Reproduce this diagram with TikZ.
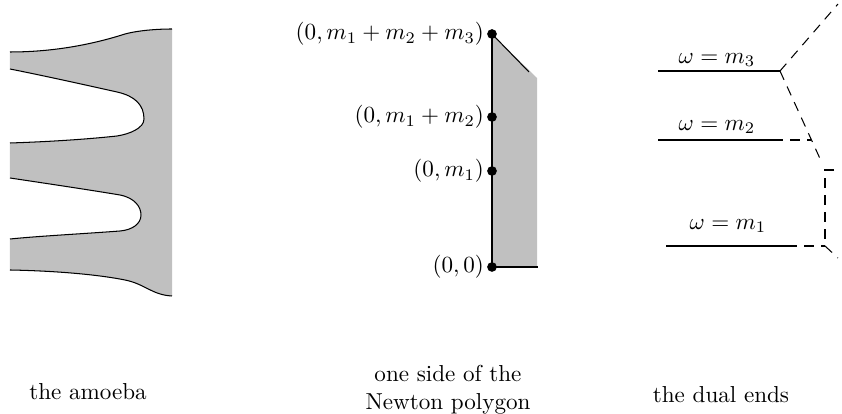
\documentclass[tikz,border=0pt]{standalone}
\begin{document}
\begin{tikzpicture}[x=0.4329pt,y=-0.4329pt,
  amfill/.style={fill={rgb,255:red,192;green,192;blue,192}},
  edge/.style={draw=black,line width=0.45pt},
  dualdash/.style={draw=black,line width=0.45pt,dash pattern=on 4.2pt off 3.2pt},
  gapfirst/.style={dash phase=4.2pt},
  dot/.style={circle,fill=black,inner sep=0pt,minimum size=4.2pt},
  mlabel/.style={anchor=east,inner sep=1pt},
  wlabel/.style={inner sep=0pt},
  caption/.style={align=center,inner sep=0pt}]
\useasboundingbox (0,0) rectangle (842,414);
% ---------- amoeba ----------
\fill[amfill] (10,52) .. controls (60,52) and (100,42) .. (125,34)
  .. controls (140,30) and (160,29) .. (172,29) -- (172,296)
  .. controls (152,295) and (145,284) .. (125,280)
  .. controls (100,275) and (60,271) .. (10,270) -- cycle;
\fill[white] (10,69) .. controls (50,77) and (90,86) .. (117,92)
  .. controls (135,96) and (144,105) .. (144,119)
  .. controls (144,128) and (130,134) .. (117,136)
  .. controls (80,140) and (40,142) .. (10,143) -- (6,143) -- (6,69) -- cycle;
\fill[white] (10,178) .. controls (50,184) and (90,190) .. (120,195)
  .. controls (135,198) and (141,207) .. (141,215)
  .. controls (141,224) and (132,230) .. (120,231)
  .. controls (80,234) and (40,236) .. (10,239) -- (6,239) -- (6,178) -- cycle;
\draw[edge] (10,52) .. controls (60,52) and (100,42) .. (125,34)
  .. controls (140,30) and (160,29) .. (172,29);
\draw[edge] (172,296) .. controls (152,295) and (145,284) .. (125,280)
  .. controls (100,275) and (60,271) .. (10,270);
\draw[edge] (10,69) .. controls (50,77) and (90,86) .. (117,92)
  .. controls (135,96) and (144,105) .. (144,119)
  .. controls (144,128) and (130,134) .. (117,136)
  .. controls (80,140) and (40,142) .. (10,143);
\draw[edge] (10,178) .. controls (50,184) and (90,190) .. (120,195)
  .. controls (135,198) and (141,207) .. (141,215)
  .. controls (141,224) and (132,230) .. (120,231)
  .. controls (80,234) and (40,236) .. (10,239);
% ---------- Newton polygon ----------
\coordinate (p0) at (492,267);
\coordinate (p1) at (492,171);
\coordinate (p2) at (492,117);
\coordinate (p3) at (492,34);
\coordinate (pd) at (529,72);
\coordinate (pg) at (537,78);
\coordinate (pgb) at (537,267);
\coordinate (pb) at (538,267);
\fill[amfill] (p3) -- (pg) -- (pgb) -- (p0) -- cycle;
\draw[edge] (p0) -- (p3);
\draw[edge] (p3) -- (pd);
\draw[edge] (p0) -- (pb);
\node[dot] (d0) at (p0) {};
\node[dot] (d1) at (p1) {};
\node[dot] (d2) at (p2) {};
\node[dot] (d3) at (p3) {};
\node[mlabel] (l0) at (d0.west) {$(0,0)$};
\node[mlabel] (l1) at (d1.west) {$(0,m_1)$};
\node[mlabel] (l2) at (d2.west) {$(0,m_1+m_2)$};
\node[mlabel] (l3) at (d3.west) {$(0,m_1+m_2+m_3)$};
% ---------- dual ends ----------
\coordinate (a3) at (658,71);
\coordinate (v3) at (780,71);
\coordinate (t3) at (838,4);
\coordinate (s3) at (822,163);
\coordinate (a2) at (658,140);
\coordinate (b2) at (783,140);
\coordinate (c2) at (811,140);
\coordinate (a1) at (666,246);
\coordinate (b1) at (797,246);
\coordinate (v1) at (825,246);
\coordinate (u1) at (825,170);
\coordinate (r1) at (834,170);
\coordinate (e1) at (838,258);
\draw[edge] (a3) -- (v3);
\draw[dualdash] (v3) -- (t3);
\draw[dualdash] (v3) -- (s3);
\draw[edge] (a2) -- (b2);
\draw[dualdash,gapfirst] (b2) -- (c2);
\draw[edge] (a1) -- (b1);
\draw[dualdash,gapfirst] (b1) -- (v1);
\draw[dualdash] (r1) -- (u1) -- (v1);
\draw[dualdash] (v1) -- (e1);
\node[wlabel] (w3) at (717,60) {$\omega=m_3$};
\node[wlabel] (w2) at (717,127) {$\omega=m_2$};
\node[wlabel] (w1) at (728,226) {$\omega=m_1$};
% ---------- captions ----------
\node[caption] (c1) at (88,392) {the amoeba};
\node[caption] (c2t) at (448,390) {one side of the\\Newton polygon};
\node[caption] (c3) at (721,395) {the dual ends};
\end{tikzpicture}
\end{document}
